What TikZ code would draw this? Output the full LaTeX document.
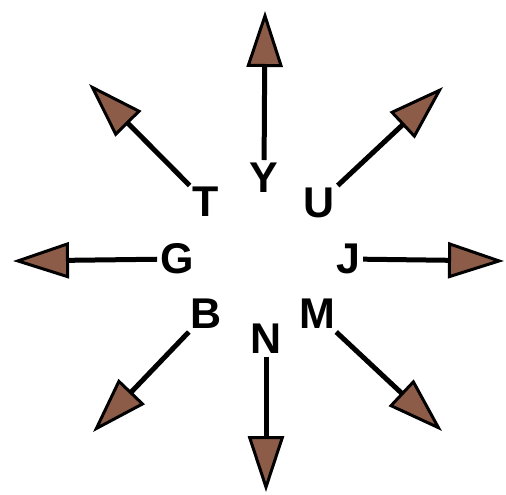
\documentclass[tikz,border=0pt]{standalone}
\usepackage{fontspec}
\setmainfont{Liberation Sans}
\usepackage{xcolor}
\usetikzlibrary{arrows.meta}
\definecolor{monBrun}{RGB}{140, 92, 72}

\begin{document}
\begin{tikzpicture}[x=1pt, y=-1pt,
    lettre/.style={inner sep=3pt, font=\fontsize{43}{43}\selectfont\bfseries},
    fleche/.style={line width=5pt, -{Triangle[length=56pt, width=36pt, fill=monBrun, line width=3pt]}}]
        \useasboundingbox (0,0) rectangle (506,495);
        % Lettres
        \node[lettre] (Y) at (264,178) {Y};
        \node[lettre] (U) at (319,203) {U};
        \node[lettre] (J) at (348,259) {J};
        \node[lettre] (M) at (317,314) {M};
        \node[lettre] (N) at (266,339) {N};
        \node[lettre] (B) at (206,314) {B};
        \node[lettre] (G) at (177,259) {G};
        \node[lettre] (T) at (206,202) {T};
        
        % Pointes des flèches
        \coordinate (pY) at (265,11);
        \coordinate (pU) at (443,87);
        \coordinate (pJ) at (504,261);
        \coordinate (pM) at (442,431);
        \coordinate (pN) at (266,492);
        \coordinate (pB) at (93,432);
        \coordinate (pG) at (13,261);
        \coordinate (pT) at (89,84);
        
        % Flèches
        \foreach \l in {Y,U,J,M,N,B,G,T}
            \draw[fleche] (\l) -- (p\l);
    \end{tikzpicture}
\end{document}
